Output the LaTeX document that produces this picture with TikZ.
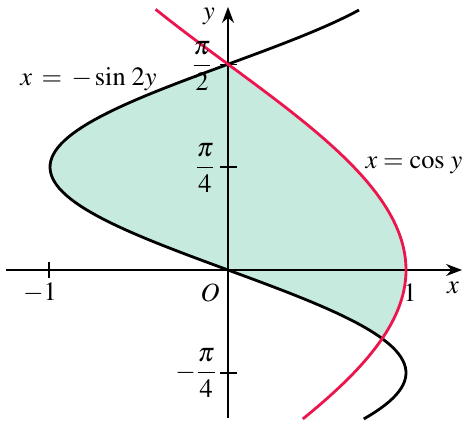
\documentclass[tikz,border=0pt]{standalone}
\usepackage{amsmath}
\usepackage{mathptmx}
\usepackage{tikz}
\usepackage{xcolor}
\usetikzlibrary{arrows.meta}
\definecolor{cRed}{RGB}{236,22,78}
\definecolor{cShade}{RGB}{199,234,222}
\tikzset{
	axis/.style     ={-{Stealth[length=3.2mm, width=2.4mm]}, line width=0.8pt},
	tick/.style     ={line width=0.8pt},
	curve/.style    ={line width=1.6pt, black},
	rcurve/.style   ={line width=1.6pt, cRed},
}

\begin{document}
\begin{tikzpicture}[x=3.56cm, y=2.62cm, font=\fontsize{15}{17}\selectfont]
	\useasboundingbox (-1.281,-1.168) rectangle (1.337,2.061);
	% shaded region between the two curves
	\fill[cShade] plot[domain=-pi/6:pi/2, samples=60] ({-sin(2*\x r)},\x) -- plot[domain=pi/2:-pi/6, samples=60] ({cos(\x r)},\x) -- cycle;
	% axes
	\draw[axis] (-1.247,0) -- (1.315,0);
	\draw[axis] (0,-1.13) -- (0,2.008);
	\draw[tick] (-1.006,-0.06) -- (-1.006,0.06);
	\foreach \t in {-pi/4, pi/4, pi/2}
		\draw[tick] (-0.045,\t) -- (0.05,\t);
	% curves
	\draw[curve] plot[domain=-1.137:1.985, samples=120] ({-sin(2*\x r)},\x);
	\draw[rcurve] plot[domain=-1.137:1.99, samples=120] ({cos(\x r)},\x);
	% labels
	\node (xlab) at (1.264,-0.137) {$x$};
	\node (ylab) at (-0.107,1.935) {$y$};
	\node (orig) at (-0.101,-0.176) {$O$};
	\node (mone) at (-1.056,-0.176) {$-1$};
	\node (one) at (1.022,-0.176) {$1$};
	\node (pihalf) at (-0.146,1.557) {$\dfrac{\pi}{2}$};
	\node (piq) at (-0.129,0.779) {$\dfrac{\pi}{4}$};
	\node (mpiq) at (-0.18,-0.786) {$-\dfrac{\pi}{4}$};
	\node[anchor=west, inner sep=0pt] (lsin) at (-1.169,1.458) {$x\:=\:-\sin\,2y$};
	\node[anchor=east, inner sep=0pt] (lcos) at (1.318,0.80) {$x = \cos\,y$};
\end{tikzpicture}
\end{document}
